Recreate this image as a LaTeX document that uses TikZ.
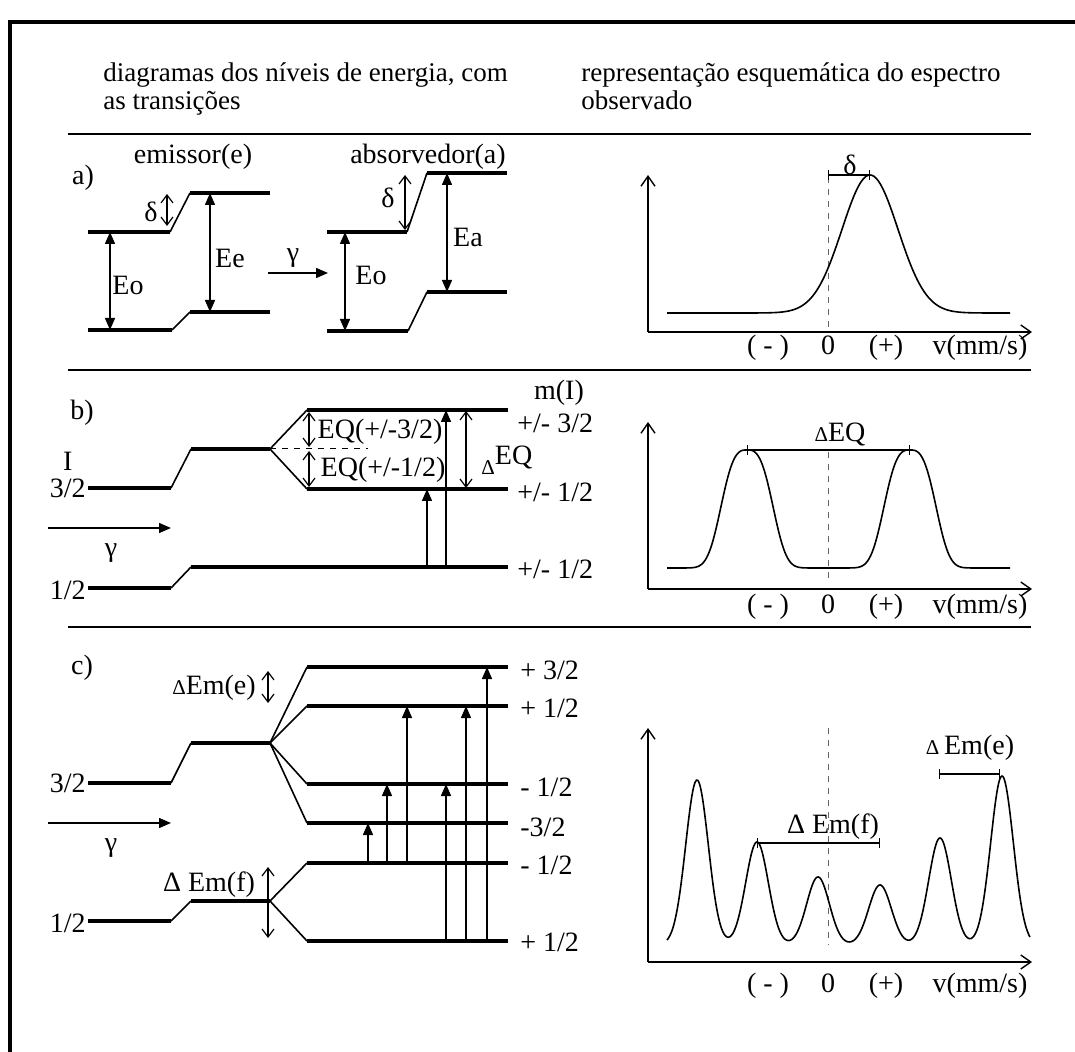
\documentclass[tikz,border=0pt]{standalone}
\usepackage{fontspec}
\setmainfont{Liberation Serif}
\usetikzlibrary{arrows.meta,positioning}
\tikzset{
  level/.style  = {line width=2pt},
  slope/.style  = {line width=0.8pt},
  sepline/.style= {line width=1pt},
  trans/.style  = {-{Triangle[length=6pt,width=5pt]}, line width=0.7pt},
  dtrans/.style = {{Triangle[length=6pt,width=5pt]}-{Triangle[length=6pt,width=5pt]}, line width=0.7pt},
  gap/.style    = {{Straight Barb[length=4pt,width=6pt]}-{Straight Barb[length=4pt,width=6pt]}, line width=0.6pt},
  gapone/.style = {-{Straight Barb[length=4pt,width=6pt]}, line width=0.6pt},
  axis/.style   = {-{Straight Barb[length=5pt,width=7pt]}, line width=0.7pt},
  spec/.style   = {line width=0.8pt},
  zero/.style   = {dashed, line width=0.5pt, black!60},
  brk/.style    = {{Bar[width=5pt]}-{Bar[width=5pt]}, line width=0.7pt},
  lbl/.style    = {font=\fontsize{14}{14.5}\selectfont, inner sep=0pt},
  hdr/.style    = {font=\fontsize{13.5}{14}\selectfont, inner sep=0pt},
  tick/.style   = {lbl, anchor=base},
}
\newcommand\sDelta{{\fontsize{10.5}{11}\selectfont Δ}}

\begin{document}
\begin{tikzpicture}[x=0.5pt, y=-0.5pt,
  declare function={pk(\qa,\qb,\qc)=exp(max(-9,0-(abs(\qa)/\qb+0.0001)^\qc));}]
\useasboundingbox (0,0) rectangle (1075,1052);

%% ── Frame and headings ──────────────────────────────────────────────────
\draw[line width=2pt] (10,1052) -- (10,22) -- (1075,22);
\node[hdr, anchor=north west, align=left] (hdrL) at (103,62)
  {diagramas dos níveis de energia, com\\as transições};
\node[hdr, anchor=north west, align=left] (hdrR) at (581,62)
  {representação esquemática do espectro\\observado};
\draw[sepline] (68,134) -- (1031,134);
\draw[sepline] (68,370) -- (1031,370);
\draw[sepline] (68,627) -- (1031,627);

%% ── a) levels ────────────────────────────────────────────────────────────
\node[lbl] (tagA) at (83,178) {a)};
\node[lbl] (emis) at (193,157) {emissor(e)};
\node[lbl] (absv) at (428,157) {absorvedor(a)};

\draw[level] (88,232) -- (170,232);
\draw[slope] (170,232) -- (190,193);
\draw[level] (190,193) -- (270,193);
\draw[level] (88,330) -- (172,330);
\draw[slope] (172,330) -- (190,312);
\draw[level] (190,312) -- (270,312);
\draw[dtrans] (110,232) -- (110,330);
\draw[dtrans] (210,193) -- (210,312);
\draw[gap] (167,194) -- (167,226);
\node[lbl] (eEo) at (128,285) {Eo};
\node[lbl] (eEe) at (230,258) {Ee};
\node[lbl] (eDel) at (151,212) {δ};

\draw[trans] (268,273) -- (328,273);
\node[lbl] (aGam) at (293,258) {γ};

\draw[level] (327,232) -- (407,232);
\draw[slope] (407,232) -- (427,173);
\draw[level] (427,173) -- (507,173);
\draw[level] (327,331) -- (408,331);
\draw[slope] (408,331) -- (427,292);
\draw[level] (427,292) -- (507,292);
\draw[dtrans] (345,232) -- (345,331);
\draw[dtrans] (447,173) -- (447,292);
\draw[gap] (405,175) -- (405,230);
\node[lbl] (aEo) at (371,275) {Eo};
\node[lbl] (aEa) at (468,237) {Ea};
\node[lbl] (aDel) at (388,198) {δ};

%% ── a) spectrum ──────────────────────────────────────────────────────────
\draw[axis] (648,332) -- (648,175);
\draw[axis] (648,332) -- (1032,332);
\draw[zero] (828,177) -- (828,330);
\draw[spec] plot[domain=667:1010, samples=160, smooth]
  (\x, {313-138*pk(\x-870,39.6,2)});
\draw[brk] (828,175) -- (870,175);
\node[lbl] (sDelA) at (850,165) {δ};
\node[tick] (aMin) at (768,355) {( - )};
\node[tick] (aZer) at (828,355) {0};
\node[tick] (aPls) at (886,355) {(+)};
\node[tick] (aVel) at (980,355) {v(mm/s)};

%% ── b) levels ────────────────────────────────────────────────────────────
\node[lbl] (tagB) at (82,413) {b)};
\node[lbl] (mI) at (559,393) {m(I)};
\node[lbl, anchor=east] (b32) at (86,488) {3/2};
\node[lbl, above=3.5pt of b32.north, anchor=south] (bI) {I};
\node[lbl, anchor=east] (b12) at (86,590) {1/2};

\draw[level] (88,488) -- (171,488);
\draw[slope] (171,488) -- (191,449);
\draw[level] (191,449) -- (270,449);
\draw[slope] (270,449) -- (307,410);
\draw[slope] (270,449) -- (307,489);
\draw[level] (307,410) -- (508,410);
\draw[level] (307,489) -- (508,489);
\draw[zero, black] (270,449) -- (368,449);
\draw[level] (88,588) -- (171,588);
\draw[slope] (171,588) -- (191,567);
\draw[level] (191,567) -- (508,567);

\draw[gap] (309,412) -- (309,447);
\draw[gap] (309,451) -- (309,487);
\node[lbl] (eq32) at (380,432) {EQ(+/-3/2)};
\node[lbl] (eq12) at (383,470) {EQ(+/-1/2)};
\draw[trans] (427,567) -- (427,489);
\draw[trans] (446,567) -- (446,410);
\draw[gap] (466,411) -- (466,488);
\node[lbl, anchor=west] (dEQ) at (481,460) {\sDelta\raisebox{5pt}{EQ}};
\node[lbl, anchor=west] (b32r) at (517,423) {+/- 3/2};
\node[lbl, anchor=west] (b12r) at (517,492) {+/- 1/2};
\node[lbl, anchor=west] (b12g) at (517,569) {+/- 1/2};

\draw[trans] (48,528) -- (171,528);
\node[lbl] (bGam) at (111,553) {γ};

%% ── b) spectrum ──────────────────────────────────────────────────────────
\draw[axis] (648,589) -- (648,422);
\draw[axis] (648,589) -- (1032,589);
\draw[zero] (828,452) -- (828,582);
\draw[spec] plot[domain=667:1010, samples=200, smooth]
  (\x, {568-118*(pk(\x-747,30,3)+pk(\x-910,30,3))});
\draw[brk] (747,450) -- (910,450);
\node[lbl] (sEQ) at (840,435) {\sDelta EQ};
\node[tick] (bMin) at (768,613) {( - )};
\node[tick] (bZer) at (828,613) {0};
\node[tick] (bPls) at (886,613) {(+)};
\node[tick] (bVel) at (980,613) {v(mm/s)};

%% ── c) levels ────────────────────────────────────────────────────────────
\node[lbl] (tagC) at (82,668) {c)};
\node[lbl] (dEme) at (214,688) {\sDelta Em(e)};
\draw[gap] (268,671) -- (268,703);
\node[lbl, anchor=east] (c32) at (86,783) {3/2};
\node[lbl, anchor=east] (c12) at (86,923) {1/2};

\draw[level] (88,783) -- (171,783);
\draw[slope] (171,783) -- (191,743);
\draw[level] (191,743) -- (270,743);
\foreach \yy in {667,706,784,823}{
  \draw[slope] (270,743) -- (307,\yy);
  \draw[level] (307,\yy) -- (508,\yy);
}
\draw[level] (88,921) -- (171,921);
\draw[slope] (171,921) -- (191,901);
\draw[level] (191,901) -- (270,901);
\foreach \yy in {863,941}{
  \draw[slope] (270,901) -- (307,\yy);
  \draw[level] (307,\yy) -- (508,\yy);
}
\node[lbl] (dEmf) at (209,885) {Δ Em(f)};
\draw[gapone] (268,899) -- (268,867);
\draw[gapone] (268,903) -- (268,938);

\draw[trans] (368,863) -- (368,823);
\draw[trans] (387,863) -- (387,784);
\draw[trans] (407,863) -- (407,706);
\draw[trans] (446,941) -- (446,784);
\draw[trans] (466,941) -- (466,706);
\draw[trans] (487,941) -- (487,667);

\node[lbl, anchor=west] (cp32) at (520,670) {+ 3/2};
\node[lbl, anchor=west] (cp12) at (520,708) {+ 1/2};
\node[lbl, anchor=west] (cm12) at (520,787) {- 1/2};
\node[lbl, anchor=west] (cm32) at (520,827) {-3/2};
\node[lbl, anchor=west] (gm12) at (520,865) {- 1/2};
\node[lbl, anchor=west] (gp12) at (520,942) {+ 1/2};

\draw[trans] (48,823) -- (171,823);
\node[lbl] (cGam) at (111,848) {γ};

%% ── c) spectrum ──────────────────────────────────────────────────────────
\draw[axis] (648,962) -- (648,728);
\draw[axis] (648,962) -- (1032,962);
\draw[zero] (828,728) -- (828,945);
\draw[spec] plot[domain=667:1030, samples=260, smooth]
  (\x, {945-(165*pk(\x-697,16,2)+103*pk(\x-757,16,2)+68*pk(\x-818,16,2)
            +60*pk(\x-880,16,2)+107*pk(\x-940,16,2)+169*pk(\x-1002,16,2))});
\draw[brk] (757,843) -- (880,843);
\node[lbl] (sEmf) at (833,827) {Δ Em(f)};
\draw[brk] (939,774) -- (1000,774);
\node[lbl] (sEme) at (970,748) {\sDelta\,Em(e)};
\node[tick] (cMin) at (768,992) {( - )};
\node[tick] (cZer) at (828,992) {0};
\node[tick] (cPls) at (886,992) {(+)};
\node[tick] (cVel) at (980,992) {v(mm/s)};

\end{tikzpicture}
\end{document}
